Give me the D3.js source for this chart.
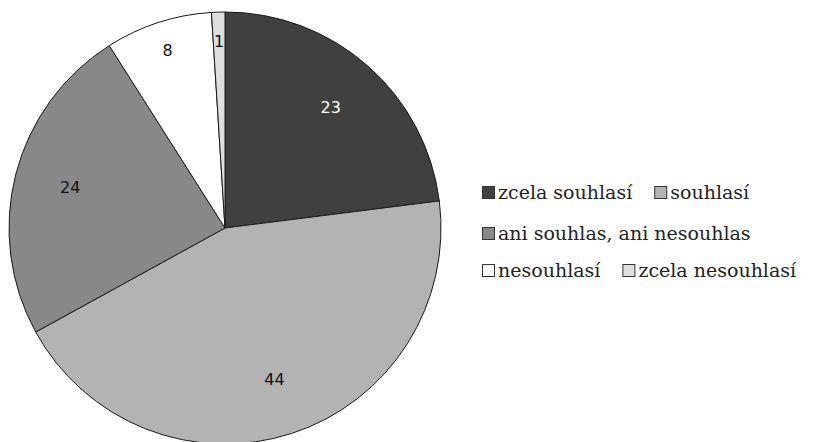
<!DOCTYPE html>
<html><head><meta charset="utf-8">
<script src="https://cdn.jsdelivr.net/npm/d3@7"></script>
<style>body{margin:0;background:#fff}svg{display:block}</style>
</head><body>
<script>
const categories = ["zcela souhlasí","souhlasí","ani souhlas, ani nesouhlas","nesouhlasí","zcela nesouhlasí"];
const values = [23,44,24,8,1];
const colors = ["#404040","#b3b3b3","#888888","#ffffff","#dedede"];
const labelColors = ["#ffffff","#111111","#111111","#111111","#111111"];
const legendRows = [[0,1],[2],[3,4]];

const W=814,H=442, cx=225, cy=228, R=216;
const svg=d3.select("body").append("svg").attr("width",W).attr("height",H);
const g=svg.append("g").attr("transform",`translate(${cx},${cy})`);
const pie=d3.pie().sort(null).value(d=>d);
const arcs=pie(values);
const arc=d3.arc().innerRadius(0).outerRadius(R);
g.selectAll("path").data(arcs).join("path").attr("d",arc)
 .attr("fill",(d,i)=>colors[i]).attr("stroke","#1a1a1a").attr("stroke-width",1);
const lab=d=>d3.arc().innerRadius(0).outerRadius(R*(d.value<10?1.72:1.48));
g.selectAll("text").data(arcs).join("text")
 .attr("transform",d=>`translate(${lab(d).centroid(d)})`)
 .attr("text-anchor","middle").attr("dy","0.3em")
 .attr("font-family","DejaVu Sans").attr("font-size",16)
 .attr("fill",(d,i)=>labelColors[i]).text(d=>d.data);

const leg=svg.append("g").attr("font-family","DejaVu Serif").attr("font-size",19).attr("fill","#222");
const rowY=[193,234,271], x0=482;
legendRows.forEach((row,ri)=>{
  let x=x0;
  row.forEach(ci=>{
    const it=leg.append("g").attr("transform",`translate(${x},${rowY[ri]})`);
    it.append("rect").attr("x",0.5).attr("y",-6.5).attr("width",12).attr("height",12)
      .attr("fill",colors[ci]).attr("stroke","#333");
    const t=it.append("text").attr("x",16).attr("dy","0.32em").text(categories[ci]);
    x+=16+t.node().getComputedTextLength()+22;
  });
});
</script>
</body></html>
